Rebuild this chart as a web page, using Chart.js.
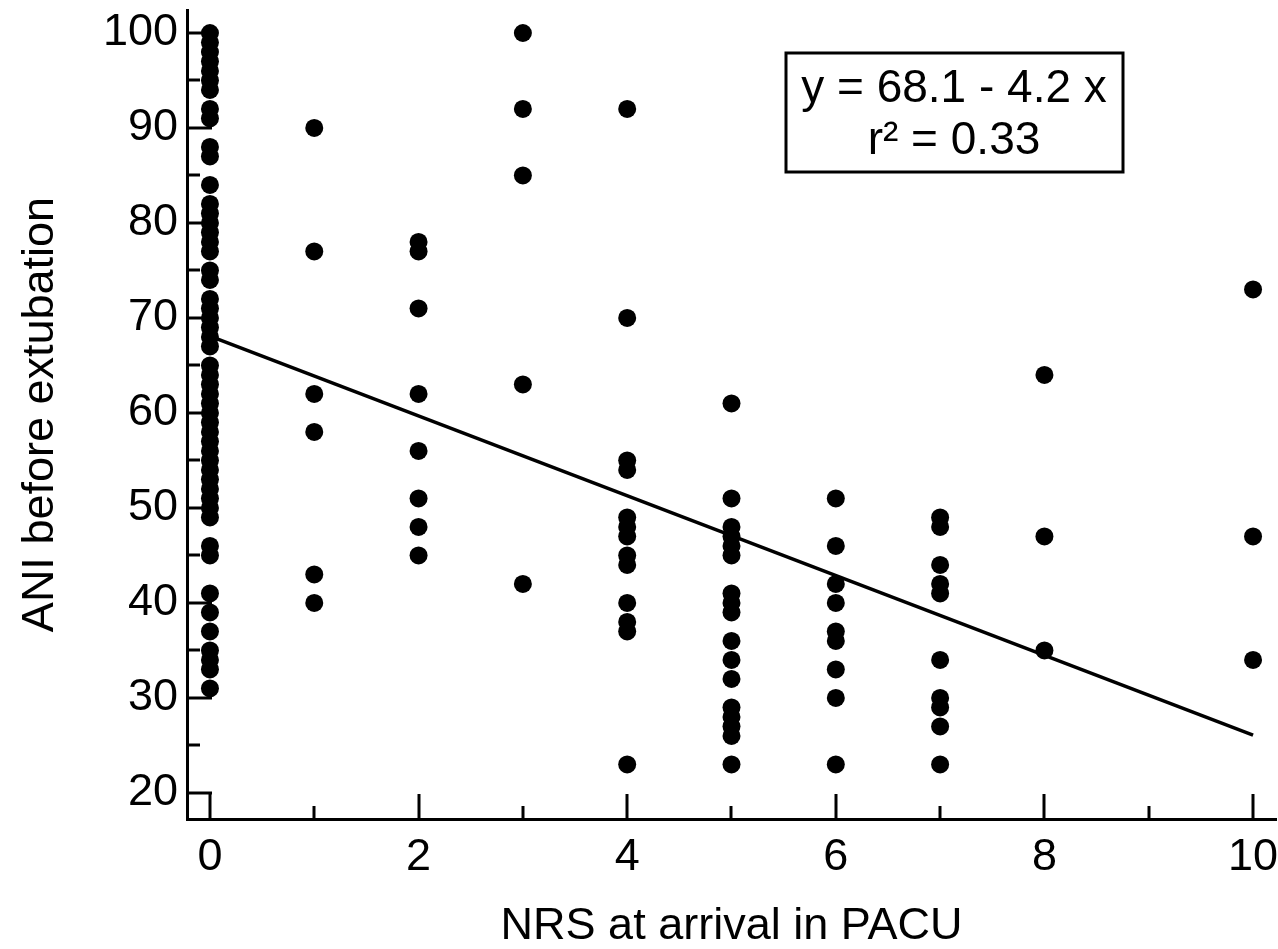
<!DOCTYPE html>
<html>
<head>
<meta charset="utf-8">
<script src="https://cdn.jsdelivr.net/npm/chart.js@4.4.1/dist/chart.umd.min.js"></script>
<style>
  html, body { margin: 0; padding: 0; background: #ffffff; }
  #wrap { width: 1278px; height: 949px; }
</style>
</head>
<body>
<div id="wrap"><canvas id="chart" width="1278" height="949"></canvas></div>
<script>
// ---- Data ----
const nrsLevels = [0, 1, 2, 3, 4, 5, 6, 7, 8, 10];
const aniNrs0  = [100, 99, 98, 97, 96, 95, 94, 92, 91, 88, 87, 84, 82, 81, 80, 79, 78, 77, 75, 74,
                  72, 71, 70, 69, 68, 67, 65, 64, 63, 62, 61, 60, 59, 58, 57, 56, 55, 54, 53, 52,
                  51, 50, 49, 46, 45, 41, 39, 37, 35, 34, 33, 31];
const aniNrs1  = [90, 77, 62, 58, 43, 40];
const aniNrs2  = [78, 77, 71, 62, 56, 51, 48, 45];
const aniNrs3  = [100, 92, 85, 63, 42];
const aniNrs4  = [92, 70, 55, 54, 49, 48, 47, 45, 44, 40, 38, 37, 23];
const aniNrs5  = [61, 51, 48, 47, 46, 45, 41, 40, 39, 36, 34, 32, 29, 28, 27, 26, 23];
const aniNrs6  = [51, 46, 42, 40, 37, 36, 33, 30, 23];
const aniNrs7  = [49, 48, 44, 42, 41, 34, 30, 29, 27, 23];
const aniNrs8  = [64, 47, 35];
const aniNrs10 = [73, 47, 34];
const aniByLevel = [aniNrs0, aniNrs1, aniNrs2, aniNrs3, aniNrs4, aniNrs5, aniNrs6, aniNrs7, aniNrs8, aniNrs10];

// regression line y = 68.1 - 4.2 x, endpoints at x = 0 and x = 10
const fitX = [0, 10];
const fitY = [68.1, 26.1];

const xTickValues = [0, 2, 4, 6, 8, 10];
const xMinorValues = [1, 3, 5, 7, 9];
const yTickValues = [20, 30, 40, 50, 60, 70, 80, 90, 100];
const yMinorValues = [25, 35, 45, 55, 65, 75, 85, 95];

const equationLines = ['y = 68.1 - 4.2 x', 'r\u00B2 = 0.33'];

// ---- Build datasets ----
const points = [];
nrsLevels.forEach((lvl, i) => aniByLevel[i].forEach(v => points.push({ x: lvl, y: v })));
const fitLine = fitX.map((x, i) => ({ x: x, y: fitY[i] }));

const FONT = '"Liberation Sans", Arial, Helvetica, sans-serif';

const innerTicks = {
  id: 'innerTicks',
  beforeDatasetsDraw(chart) {
    const { ctx, chartArea: a, scales: { x, y } } = chart;
    ctx.save();
    ctx.strokeStyle = '#000';
    ctx.lineWidth = 3;
    ctx.lineCap = 'butt';
    const seg = (x1, y1, x2, y2) => { ctx.beginPath(); ctx.moveTo(x1, y1); ctx.lineTo(x2, y2); ctx.stroke(); };
    xTickValues.forEach(v => { const p = Math.round(x.getPixelForValue(v)); seg(p, a.bottom, p, a.bottom - 25); });
    xMinorValues.forEach(v => { const p = Math.round(x.getPixelForValue(v)); seg(p, a.bottom, p, a.bottom - 13); });
    yTickValues.forEach(v => { const p = Math.round(y.getPixelForValue(v)); seg(a.left, p, a.left + 25, p); });
    yMinorValues.forEach(v => { const p = Math.round(y.getPixelForValue(v)); seg(a.left, p, a.left + 13, p); });
    ctx.restore();
  }
};

const equationBox = {
  id: 'equationBox',
  afterDraw(chart) {
    const ctx = chart.ctx;
    ctx.save();
    ctx.strokeStyle = '#000';
    ctx.lineWidth = 3;
    ctx.strokeRect(786, 53, 337, 119);
    ctx.fillStyle = '#000';
    ctx.font = '46px ' + FONT;
    ctx.textAlign = 'center';
    ctx.textBaseline = 'alphabetic';
    ctx.fillText(equationLines[0], 954, 102);
    ctx.fillText(equationLines[1], 954, 154);
    ctx.restore();
  }
};

new Chart(document.getElementById('chart').getContext('2d'), {
  type: 'scatter',
  data: {
    datasets: [
      {
        type: 'line',
        data: fitLine,
        borderColor: '#000',
        borderWidth: 3.5,
        pointRadius: 0,
        fill: false,
        tension: 0,
        order: 2
      },
      {
        data: points,
        backgroundColor: '#000',
        borderColor: '#000',
        borderWidth: 0,
        pointRadius: 9,
        pointHoverRadius: 9,
        order: 1
      }
    ]
  },
  options: {
    responsive: false,
    animation: false,
    events: [],
    layout: { autoPadding: false, padding: { top: 10, right: 2, left: 0, bottom: 0 } },
    plugins: { legend: { display: false }, tooltip: { enabled: false } },
    scales: {
      x: {
        type: 'linear',
        min: -0.22,
        max: 10.22,
        afterBuildTicks: s => { s.ticks = xTickValues.map(v => ({ value: v })); },
        afterFit: s => { s.height = 130; s.paddingLeft = 0; s.paddingRight = 0; },
        grid: { display: false, drawTicks: false },
        border: { display: true, color: '#000', width: 3 },
        ticks: { color: '#000', font: { family: FONT, size: 45 }, padding: 12, maxRotation: 0, autoSkip: false },
        title: { display: true, text: 'NRS at arrival in PACU', color: '#000',
                 font: { family: FONT, size: 45, lineHeight: 1 }, padding: { top: 0, bottom: 0 } }
      },
      y: {
        type: 'linear',
        min: 17.26,
        max: 102.42,
        afterBuildTicks: s => { s.ticks = yTickValues.map(v => ({ value: v })); },
        afterFit: s => { s.width = 187; s.paddingTop = 0; s.paddingBottom = 0; },
        grid: { display: false, drawTicks: false },
        border: { display: true, color: '#000', width: 3 },
        ticks: { color: '#000', font: { family: FONT, size: 45 }, padding: 9, autoSkip: false },
        title: { display: true, text: 'ANI before extubation', color: '#000',
                 font: { family: FONT, size: 45, lineHeight: 1 }, padding: { top: 18, bottom: 0 } }
      }
    }
  },
  plugins: [innerTicks, equationBox]
});
</script>
</body>
</html>
